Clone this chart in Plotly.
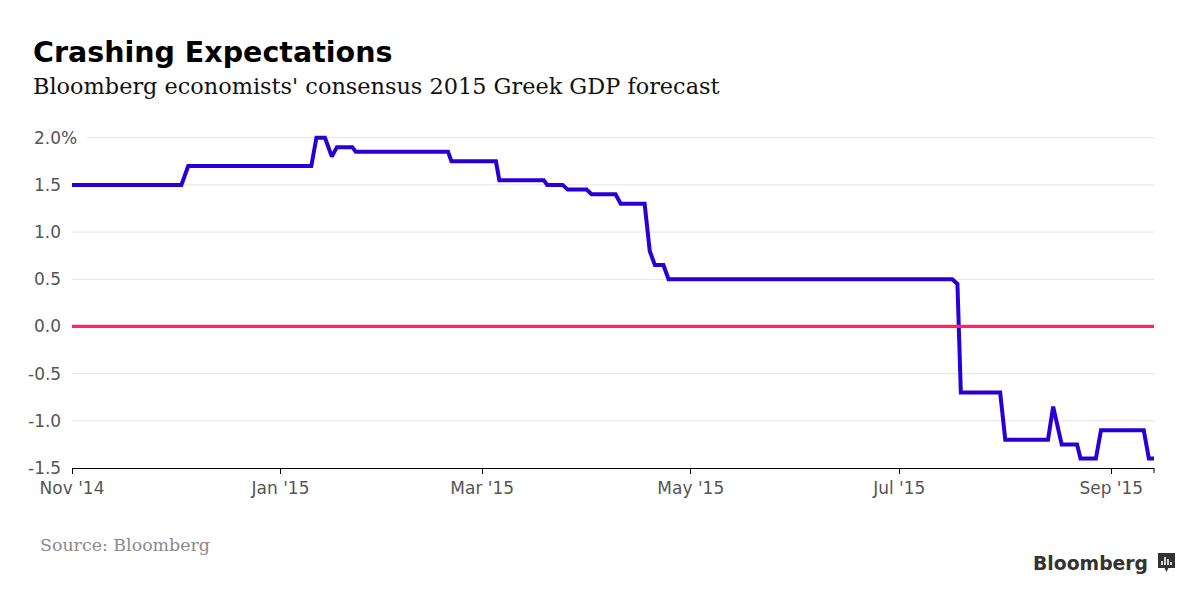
import plotly.graph_objects as go

# ---- data ----
dates = [
    "2014-11-01", "2014-12-03", "2014-12-05", "2015-01-10", "2015-01-11 12:00",
    "2015-01-14", "2015-01-16", "2015-01-17 12:00", "2015-01-22", "2015-01-23",
    "2015-02-19", "2015-02-20", "2015-03-05", "2015-03-06", "2015-03-19",
    "2015-03-20", "2015-03-24 12:00", "2015-03-26", "2015-03-31 12:00", "2015-04-02",
    "2015-04-09", "2015-04-10 12:00", "2015-04-17 12:00", "2015-04-19", "2015-04-20 12:00",
    "2015-04-23", "2015-04-24 12:00", "2015-07-16 12:00", "2015-07-18", "2015-07-19",
    "2015-07-30 12:00", "2015-08-01", "2015-08-13 12:00", "2015-08-15", "2015-08-17 12:00",
    "2015-08-22", "2015-08-23", "2015-08-27 12:00", "2015-08-29", "2015-09-10 12:00",
    "2015-09-12", "2015-09-13 12:00",
]
forecast = [
    1.5, 1.5, 1.7, 1.7, 2.0,
    2.0, 1.8, 1.9, 1.9, 1.85,
    1.85, 1.75, 1.75, 1.55, 1.55,
    1.5, 1.5, 1.45, 1.45, 1.4,
    1.4, 1.3, 1.3, 0.8, 0.65,
    0.65, 0.5, 0.5, 0.45, -0.7,
    -0.7, -1.2, -1.2, -0.85, -1.25,
    -1.25, -1.4, -1.4, -1.1, -1.1,
    -1.4, -1.4,
]
x_tick_vals = ["2014-11-01", "2015-01-01", "2015-03-01", "2015-05-01", "2015-07-01", "2015-09-01"]
x_tick_text = ["Nov '14", "Jan '15", "Mar '15", "May '15", "Jul '15", "Sep '15"]
y_tick_vals = [2.0, 1.5, 1.0, 0.5, 0.0, -0.5, -1.0, -1.5]
y_tick_text = ["2.0%", "1.5", "1.0", "0.5", "0.0", "-0.5", "-1.0", "-1.5"]
x_range = ["2014-11-01", "2015-09-13 12:00"]
y_range = [-1.5, 2.05]

title = "Crashing Expectations"
subtitle = "Bloomberg economists' consensus 2015 Greek GDP forecast"
source = "Source: Bloomberg"

# ---- layout geometry (pixels) ----
W, H = 1200, 601
L, R, T, B = 72, 46, 133, 133
PW, PH = W - L - R, H - T - B


def px(x):
    return (x - L) / PW


def py(y):
    return (H - B - y) / PH


BLUE = "#2800D7"
PINK = "#FF2466"
GRID = "#E4E4E4"
TICKC = "#555555"

fig = go.Figure()
fig.add_trace(go.Scatter(
    x=dates, y=forecast, mode="lines",
    line=dict(color=BLUE, width=4), hoverinfo="skip", showlegend=False,
))

shapes = []
# gridlines
for v in y_tick_vals:
    if v in (0.0, y_range[0]):
        continue
    shapes.append(dict(type="line", xref="paper", yref="y",
                       x0=px(87) if v == max(y_tick_vals) else 0, x1=1, y0=v, y1=v,
                       line=dict(color=GRID, width=1), layer="below"))
# zero line
shapes.append(dict(type="line", xref="paper", yref="y", x0=0, x1=1, y0=0, y1=0,
                   line=dict(color=PINK, width=3.2), layer="above"))
# right end tick of axis
shapes.append(dict(type="line", xref="paper", yref="paper", x0=1, x1=1,
                   y0=0, y1=-5 / PH, line=dict(color="black", width=1)))
# Bloomberg icon
ix0, ix1, iy0, iy1 = 1158, 1175, 553, 568
shapes.append(dict(type="rect", xref="paper", yref="paper",
                   x0=px(ix0), x1=px(ix1), y0=py(iy1), y1=py(iy0),
                   fillcolor="#333333", line=dict(width=0)))
shapes.append(dict(type="path", xref="paper", yref="paper",
                   path=f"M {px(1164)} {py(567)} L {px(1169)} {py(567)} L {px(1166.5)} {py(572)} Z",
                   fillcolor="#333333", line=dict(width=0)))
for bx, top in [(1162, 561), (1165, 557), (1168, 559), (1171, 562)]:
    shapes.append(dict(type="line", xref="paper", yref="paper",
                       x0=px(bx), x1=px(bx), y0=py(565), y1=py(top),
                       line=dict(color="white", width=1.6)))

annotations = []
# y tick labels (right-aligned numbers; the "%" hangs past the column)
for v, t in zip(y_tick_vals, y_tick_text):
    hang = 16 if t.endswith("%") else 0
    annotations.append(dict(x=px(63 + hang), y=v, xref="paper", yref="y", text=t,
                            showarrow=False, xanchor="right", yanchor="middle",
                            font=dict(family="DejaVu Sans", size=17, color=TICKC)))
# titles
annotations.append(dict(x=px(31), y=py(52), xref="paper", yref="paper", text=title,
                        showarrow=False, xanchor="left", yanchor="middle",
                        font=dict(family="DejaVu Sans", size=28.5, color="#000000", weight="bold")))
annotations.append(dict(x=px(31), y=py(86), xref="paper", yref="paper", text=subtitle,
                        showarrow=False, xanchor="left", yanchor="middle",
                        font=dict(family="DejaVu Serif", size=22.4, color="#111111")))
annotations.append(dict(x=px(38), y=py(545), xref="paper", yref="paper", text=source,
                        showarrow=False, xanchor="left", yanchor="middle",
                        font=dict(family="DejaVu Serif", size=17.4, color="#8a8a8a")))
annotations.append(dict(x=px(1150), y=py(563), xref="paper", yref="paper", text="Bloomberg",
                        showarrow=False, xanchor="right", yanchor="middle",
                        font=dict(family="DejaVu Sans", size=18.8, color="#333333", weight="bold")))

fig.update_layout(
    width=W, height=H,
    margin=dict(l=L, r=R, t=T, b=B, pad=0),
    paper_bgcolor="white", plot_bgcolor="white",
    xaxis=dict(type="date", range=x_range, tickvals=x_tick_vals, ticktext=x_tick_text,
               showgrid=False, zeroline=False, showline=True, linecolor="black", linewidth=1,
               ticks="outside", ticklen=5, tickcolor="black", tickwidth=1,
               tickfont=dict(family="DejaVu Sans", size=17, color=TICKC),
               fixedrange=True),
    yaxis=dict(range=y_range, showgrid=False, zeroline=False, showticklabels=False,
               showline=False, ticks="", fixedrange=True),
    shapes=shapes, annotations=annotations,
    showlegend=False,
)

fig.write_html("out.html", config={"displayModeBar": False},
               post_script="document.body.style.margin='0';")
